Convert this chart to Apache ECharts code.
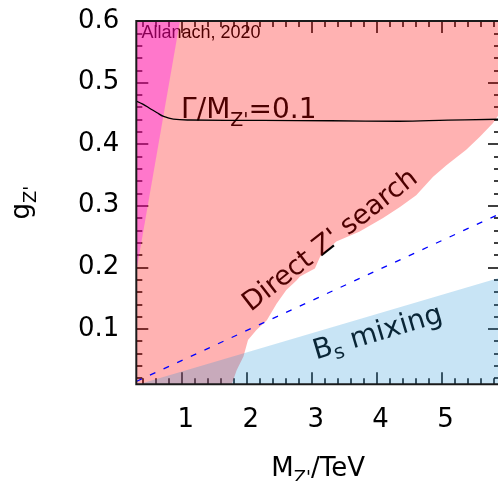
<!DOCTYPE html>
<html><head><meta charset="utf-8">
<script src="https://cdn.jsdelivr.net/npm/echarts@6/dist/echarts.min.js"></script>
<style>html,body{margin:0;padding:0;background:#fff}#c{width:498px;height:481px}</style>
</head><body><div id="c"></div>
<script>
// ---- axis ticks ----
const xMajorTicks = [1, 2, 3, 4, 5];
const xMinorTicks = [0.4, 0.6, 0.8, 1.2, 1.4, 1.6, 1.8, 2.2, 2.4, 2.6, 2.8, 3.2, 3.4, 3.6, 3.8, 4.2, 4.4, 4.6, 4.8, 5.2, 5.4, 5.6, 5.8];
const yMajorTicks = [0.1, 0.2, 0.3, 0.4, 0.5, 0.6];
const yMinorTicks = [0.02, 0.04, 0.06, 0.08, 0.12, 0.14, 0.16, 0.18, 0.22, 0.24, 0.26, 0.28, 0.32, 0.34, 0.36, 0.38, 0.42, 0.44, 0.46, 0.48, 0.52, 0.54, 0.56, 0.58];

// ---- regions / curves (M_Z' in TeV, g_Z') ----
const directSearchBoundary = [[0.3,0.01],[1.77,0.01],[1.845,0.033],[1.95,0.055],[2.02,0.082],[2.15,0.098],[2.31,0.114],[2.46,0.141],[2.61,0.163],[2.77,0.179],[2.82,0.185],[3.05,0.198],[3.13,0.217],[3.2,0.225],[3.38,0.242],[3.74,0.258],[4.1,0.28],[4.36,0.298],[4.61,0.317],[4.87,0.347],[5.08,0.366],[5.38,0.391],[5.59,0.412],[5.79,0.434],[5.9,0.451]];
const perturbativityBoundary = [[0.3,0.193],[0.972,0.6]];
const bsMixingBoundary = [[0.3,0.009],[5.9,0.183]];
const widthCurve = [[0.3,0.47],[0.4,0.465],[0.51,0.458],[0.62,0.451],[0.72,0.445],[0.87,0.4405],[1.13,0.4392],[2.25,0.4385],[3.3,0.438],[4.35,0.4372],[5.1,0.439],[5.9,0.4405]];
const dashedLine = [[0.3,0.0146],[5.9,0.287]];

// ---- annotations ----
const annotations = [
  {text: 'Allanach, 2020', at: [0.38, 0.5797], rot: 0, align: 'left', font: 'Liberation Sans', size: 18},
  {text: '{a|Γ/M}{s|Z\'}{a|=0.1}', at: [0.99, 0.4538], rot: 0, align: 'left', font: 'DejaVu Sans', size: 28, sub: 19, pad: 14.3},
  {text: 'Direct Z\' search', at: [3.29, 0.243], rot: 38, align: 'center', font: 'DejaVu Sans', size: 27},
  {text: '{a|B}{s|s}{a| mixing}', at: [4.02, 0.0925], rot: 16.6, align: 'center', font: 'DejaVu Sans', size: 28, sub: 20, pad: 11.8}
];

const FONT = 'DejaVu Sans';
const xMin = 0.3, xMax = 5.9, yMin = 0.01, yMax = 0.6;

function xAxisDef(pos, ticks, len, labels) {
  return {
    type: 'value', position: pos, min: xMin, max: xMax,
    axisLine: {show: false, onZero: false},
    splitLine: {show: false},
    axisTick: {show: true, inside: true, length: len, customValues: ticks, lineStyle: {color: '#000', width: 1.5}},
    axisLabel: labels ? {show: true, customValues: ticks, fontFamily: FONT, fontSize: 26, color: '#000', margin: 23, padding: [0,0,0,8], formatter: v => String(Math.round(v))} : {show: false}
  };
}
function yAxisDef(pos, ticks, len, labels) {
  return {
    type: 'value', position: pos, min: yMin, max: yMax,
    axisLine: {show: false, onZero: false},
    splitLine: {show: false},
    axisTick: {show: true, inside: true, length: len, customValues: ticks, lineStyle: {color: '#000', width: 1.5}},
    axisLabel: labels ? {show: true, customValues: ticks, fontFamily: FONT, fontSize: 26, color: '#000', margin: 17, formatter: v => v.toFixed(1)} : {show: false}
  };
}

const xAxes = [
  xAxisDef('bottom', xMajorTicks, 12, true),
  xAxisDef('bottom', xMinorTicks, 6, false),
  xAxisDef('top', xMajorTicks, 12, false),
  xAxisDef('top', xMinorTicks, 6, false)
];
Object.assign(xAxes[0], {
  name: '{a|M}{s|Z\'}{a|/TeV}', nameLocation: 'middle', nameGap: 72,
  nameTextStyle: {color: '#000', rich: {
    a: {fontFamily: FONT, fontSize: 26, lineHeight: 26, verticalAlign: 'top', color: '#000'},
    s: {fontFamily: FONT, fontSize: 18, lineHeight: 18, verticalAlign: 'top', padding: [13,0,0,0], color: '#000'}
  }}
});
const yAxes = [
  yAxisDef('left', yMajorTicks, 12, true),
  yAxisDef('left', yMinorTicks, 6, false),
  yAxisDef('right', yMajorTicks, 12, false),
  yAxisDef('right', yMinorTicks, 6, false)
];
Object.assign(yAxes[0], {
  name: '{a|g}{s|Z\'}', nameLocation: 'middle', nameGap: 101, nameRotate: 90,
  nameTextStyle: {color: '#000', rich: {
    a: {fontFamily: FONT, fontSize: 26, lineHeight: 26, verticalAlign: 'top', color: '#000'},
    s: {fontFamily: FONT, fontSize: 18, lineHeight: 18, verticalAlign: 'top', padding: [12.8,0,0,0], color: '#000'}
  }}
});

function area(data, color, origin) {
  return {type: 'line', data: data, xAxisIndex: 0, yAxisIndex: 0, symbol: 'none', silent: true,
    lineStyle: {width: 0, opacity: 0}, areaStyle: {color: color, opacity: 1, origin: origin}, clip: true};
}

const option = {
  animation: false,
  backgroundColor: '#fff',
  grid: {left: 136.3, top: 21, width: 363.7, height: 363.3, show: true, z: 10,
    containLabel: false, outerBoundsMode: 'none',
    borderColor: '#1a1a1a', borderWidth: 2, backgroundColor: 'transparent'},
  xAxis: xAxes,
  yAxis: yAxes,
  series: [
    area(directSearchBoundary, 'rgba(255,0,0,0.3)', 'end'),
    area(perturbativityBoundary, 'rgba(255,0,255,0.33)', 'end'),
    area(bsMixingBoundary, 'rgba(35,147,215,0.25)', 'start'),
    {type: 'line', data: widthCurve, symbol: 'none', smooth: 0.4, silent: true, clip: true,
      lineStyle: {color: '#000', width: 1.3}},
    {type: 'line', data: dashedLine, symbol: 'none', silent: true, clip: true,
      lineStyle: {color: '#0000ff', width: 1.3, type: [6, 9]}}
  ]
};

const chart = echarts.init(document.getElementById('c'), null, {renderer: 'canvas'});
chart.setOption(option);

const elements = annotations.map(a => {
  const p = chart.convertToPixel({gridIndex: 0}, a.at);
  const style = {text: a.text, fill: '#000', fontFamily: a.font, fontSize: a.size,
    align: a.align, textAlign: a.align, verticalAlign: 'middle', textVerticalAlign: 'middle'};
  if (a.sub) {
    style.rich = {
      a: {fontFamily: a.font, fontSize: a.size, lineHeight: a.size, verticalAlign: 'top', fill: '#000'},
      s: {fontFamily: a.font, fontSize: a.sub, lineHeight: a.sub, verticalAlign: 'top', padding: [a.pad,0,0,0], fill: '#000'}
    };
  }
  return {type: 'text', x: p[0], y: p[1], rotation: a.rot * Math.PI / 180, z: 0, silent: true, style: style};
});
chart.setOption({graphic: {elements: elements}});
</script>
</body></html>
